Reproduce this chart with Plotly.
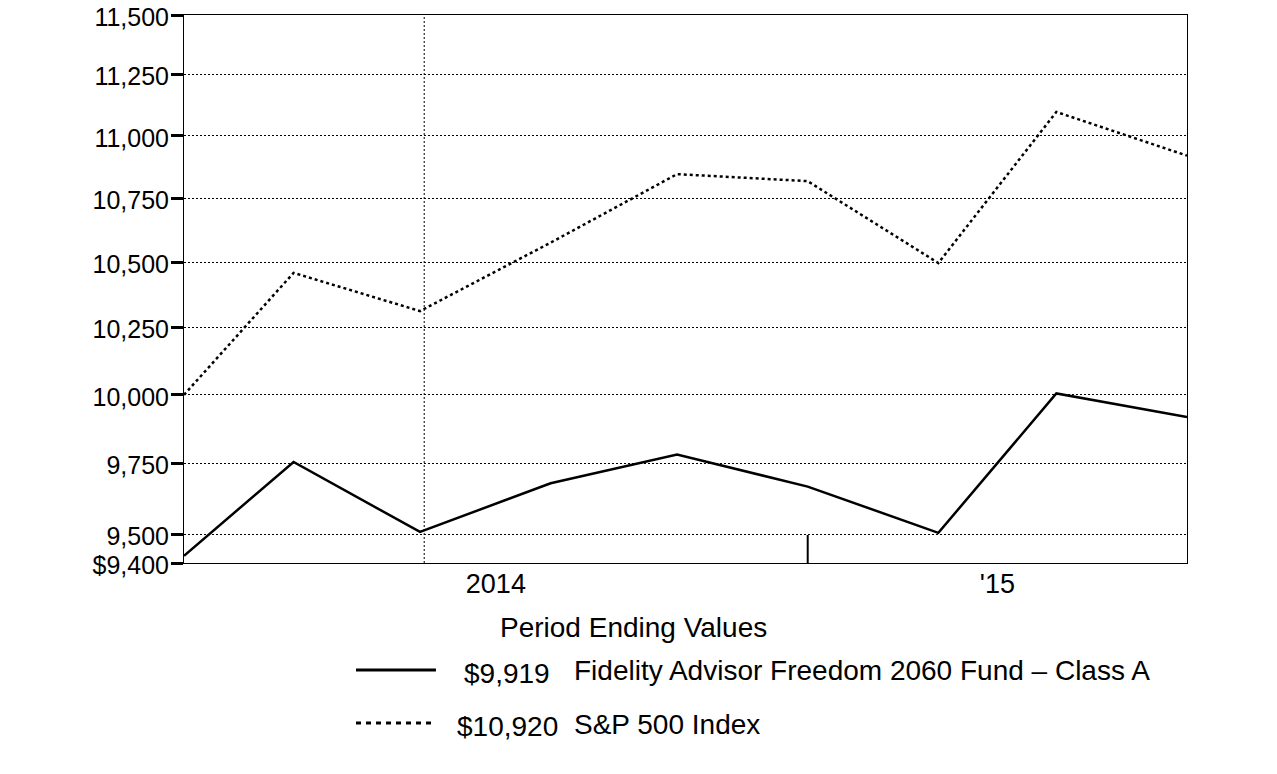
import math
import plotly.graph_objects as go

# ---- data ----
dates = ["2014-08-05", "2014-08-31", "2014-09-30", "2014-10-31", "2014-11-30",
         "2014-12-31", "2015-01-31", "2015-02-28", "2015-03-31"]
fund_values = [9425, 9756, 9508, 9680, 9783, 9668, 9505, 10005, 9919]
sp500_values = [10000, 10459, 10313, 10576, 10846, 10818, 10497, 11097, 10920]

fund_name = "Fidelity Advisor Freedom 2060 Fund \u2013 Class A"
sp500_name = "S&P 500 Index"
fund_end_label = "$9,919"
sp500_end_label = "$10,920"
legend_title = "Period Ending Values"

y_tickvals = [9400, 9500, 9750, 10000, 10250, 10500, 10750, 11000, 11250, 11500]
y_ticktext = ["$9,400", "9,500", "9,750", "10,000", "10,250", "10,500",
              "10,750", "11,000", "11,250", "11,500"]

x_label_vals = ["2014-10-18", "2015-02-14"]
x_label_text = ["2014", "'15"]
x_grid_date = "2014-10-01"
year_break_date = "2014-12-31"

FONT = "Liberation Sans, Arial, sans-serif"

fig = go.Figure()
fig.add_trace(go.Scatter(x=dates, y=sp500_values, mode="lines",
                         line=dict(color="black", width=2.5, dash="3px,3px"),
                         showlegend=False))
fig.add_trace(go.Scatter(x=dates, y=fund_values, mode="lines",
                         line=dict(color="black", width=2.5),
                         showlegend=False))

fig.update_layout(
    width=1277, height=774,
    margin=dict(l=184, r=90, t=15, b=211, autoexpand=False),
    paper_bgcolor="white", plot_bgcolor="white",
    font=dict(family=FONT, color="black", size=25),
    showlegend=False,
    xaxis=dict(type="date", range=[dates[0], dates[-1]],
               tickvals=x_label_vals, ticktext=x_label_text,
               ticks="", showgrid=False, zeroline=False, automargin=False,
               showline=True, linecolor="black", linewidth=1, mirror=True,
               tickfont=dict(size=27, family=FONT), ticklabelstandoff=-3),
    yaxis=dict(type="log", range=[math.log10(y_tickvals[0]), math.log10(y_tickvals[-1])],
               tickvals=y_tickvals, ticktext=y_ticktext, automargin=False,
               ticklabeloverflow="allow", ticklabelshift=2,
               ticks="outside", ticklen=12, tickwidth=2.5, tickcolor="black",
               showgrid=True, gridcolor="black", gridwidth=1, griddash="2px,2px",
               zeroline=False, showline=True, linecolor="black", linewidth=1, mirror=True,
               tickfont=dict(size=25, family=FONT), ticklabelstandoff=-3),
)

# vertical dotted gridline and year-break tick
fig.add_shape(type="line", xref="x", yref="paper", x0=x_grid_date, x1=x_grid_date,
              y0=0, y1=1, line=dict(color="black", width=1, dash="2px,2px"))
fig.add_shape(type="line", xref="x", yref="paper", x0=year_break_date, x1=year_break_date,
              y0=0, y1=28 / 548, line=dict(color="black", width=2))

# custom legend
fig.add_annotation(text=legend_title, xref="paper", yref="paper", x=0.4477, y=-0.1186,
                   xanchor="center", yanchor="middle", showarrow=False,
                   font=dict(size=28, family=FONT))
fig.add_shape(type="line", xref="paper", yref="paper", x0=0.1715, x1=0.2512,
              y0=-0.1953, y1=-0.1953, line=dict(color="black", width=3))
fig.add_shape(type="line", xref="paper", yref="paper", x0=0.1715, x1=0.2473,
              y0=-0.2920, y1=-0.2920, line=dict(color="black", width=3, dash="5px,5px"))
fig.add_annotation(text=fund_end_label, xref="paper", yref="paper", x=0.3669, y=-0.2020,
                   xanchor="right", yanchor="middle", showarrow=False,
                   font=dict(size=28, family=FONT))
fig.add_annotation(text=fund_name, xref="paper", yref="paper", x=0.3868, y=-0.1953,
                   xanchor="left", yanchor="middle", showarrow=False,
                   font=dict(size=28, family=FONT))
fig.add_annotation(text=sp500_end_label, xref="paper", yref="paper", x=0.3749, y=-0.2990,
                   xanchor="right", yanchor="middle", showarrow=False,
                   font=dict(size=28, family=FONT))
fig.add_annotation(text=sp500_name, xref="paper", yref="paper", x=0.3868, y=-0.2938,
                   xanchor="left", yanchor="middle", showarrow=False,
                   font=dict(size=28, family=FONT))

fig.write_html("out.html",
               config={"displayModeBar": False},
               post_script="document.body.style.margin='0';document.body.style.overflow='hidden';")
